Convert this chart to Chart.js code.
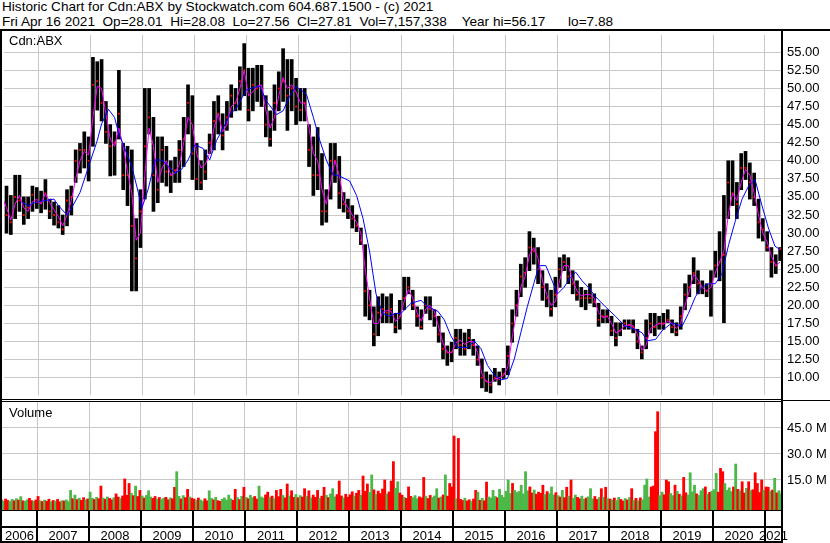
<!DOCTYPE html>
<html>
<head>
<meta charset="utf-8">
<script src="https://cdn.jsdelivr.net/npm/chart.js@4.4.0/dist/chart.umd.min.js"></script>
<style>
  body { margin: 0; background: #fff; width: 830px; height: 543px; overflow: hidden; position: relative;
         font-family: "Liberation Sans", Arial, sans-serif; }
  .txt { position: absolute; font-size: 13px; line-height: 15px; white-space: pre; color: #000; }
  .hdr { font-size: 13.6px; }
  .ln { position: absolute; background: #000; z-index: 5; }
  canvas { position: absolute; left: 0; }
</style>
</head>
<body>
<div class="txt hdr" style="left:2px;top:-1px">Historic Chart for Cdn:ABX by Stockwatch.com 604.687.1500 - (c) 2021
Fri Apr 16 2021  Op=28.01  Hi=28.08  Lo=27.56  Cl=27.81  Vol=7,157,338    Year hi=56.17      lo=7.88</div>

<canvas id="price" width="830" height="368" style="top:31px"></canvas>
<canvas id="volume" width="830" height="141" style="top:402px"></canvas>

<div class="txt" style="left:9px;top:33px;z-index:6">Cdn:ABX</div>
<div class="txt" style="left:9px;top:405px;z-index:6">Volume</div>

<!-- frame lines -->
<div class="ln" style="left:0;top:29px;width:830px;height:2px"></div>
<div class="ln" style="left:0;top:29px;width:2px;height:514px"></div>
<div class="ln" style="left:781px;top:29px;width:2px;height:514px"></div>
<div class="ln" style="left:0;top:399px;width:782px;height:1px"></div>
<div class="ln" style="left:0;top:401px;width:782px;height:1px"></div>
<div class="ln" style="left:783px;top:400px;width:47px;height:1px"></div>
<div class="ln" style="left:0;top:510px;width:783px;height:1px"></div>
<div class="ln" style="left:0;top:526px;width:783px;height:2px"></div>
<div class="ln" style="left:0;top:541px;width:783px;height:2px"></div>

<script>
// months are counted from Apr 2006 (index 0) to Apr 2021 (index 180)
const years = [2006, 2007, 2008, 2009, 2010, 2011, 2012, 2013, 2014, 2015, 2016, 2017, 2018, 2019, 2020, 2021];

const hi = [
  39.7, 36.5, 35.2, 38.0, 38.0, 35.0, 35.0, 36.5, 36.3,
  35.8, 37.4, 34.7, 34.3, 33.8, 32.5, 36.0, 36.5, 41.5, 42.4, 44.0, 43.3,
  54.3, 53.7, 54.0, 48.2, 45.0, 44.0, 52.5, 42.4, 42.0, 41.5, 32.0, 36.0,
  50.0, 50.0, 46.0, 43.3, 43.3, 42.0, 40.0, 40.5, 42.8, 46.0, 50.5, 49.0,
  42.4, 40.0, 41.5, 43.7, 48.2, 49.0, 46.5, 48.2, 50.5, 50.0, 53.0, 56.2,
  52.8, 52.8, 53.2, 53.2, 49.0, 46.9, 50.5, 52.3, 55.5, 54.0, 54.0, 51.4,
  50.0, 50.0, 45.0, 43.3, 44.6, 41.0, 36.0, 42.4, 42.4, 40.6, 35.6, 34.7,
  33.8, 32.5, 30.7, 28.4, 22.1, 19.8, 21.2, 21.6, 21.2, 21.6, 18.9, 20.7,
  23.9, 23.9, 22.1, 19.8, 19.4, 21.2, 21.2, 19.4, 18.5, 16.2, 14.4, 14.9,
  16.7, 16.7, 16.2, 16.7, 15.3, 14.4, 12.6, 10.8, 10.4, 11.3, 10.8, 11.3,
  14.4, 19.4, 22.1, 25.7, 26.6, 30.2, 29.3, 28.0, 24.8, 23.0, 22.1, 23.9,
  26.6, 27.0, 26.6, 24.8, 23.4, 22.5, 22.1, 23.0, 21.6, 20.3, 19.4, 19.4,
  18.5, 17.6, 17.6, 18.0, 18.0, 18.0, 16.7, 14.4, 18.0, 18.9, 18.9, 18.5,
  18.9, 19.4, 18.0, 17.6, 19.8, 23.0, 24.2, 26.6, 24.8, 23.4, 23.0, 24.8,
  27.5, 30.2, 35.2, 40.0, 40.0, 37.0, 41.0, 41.3, 39.7, 38.3, 34.7, 32.0,
  30.2, 28.0, 27.0, 28.0
];
const lo = [
  33.4, 30.0, 29.8, 32.0, 33.0, 31.2, 32.0, 33.0, 33.4,
  32.8, 33.3, 32.0, 31.1, 30.7, 29.8, 31.0, 32.5, 37.0, 38.3, 39.0, 37.2,
  42.0, 47.0, 45.5, 42.4, 37.9, 38.0, 43.0, 36.0, 33.8, 22.0, 22.0, 28.0,
  34.7, 43.7, 33.0, 34.2, 37.0, 36.5, 35.6, 37.0, 37.0, 39.2, 43.7, 37.4,
  36.0, 36.0, 37.4, 41.0, 41.5, 43.7, 41.5, 44.2, 46.0, 46.9, 47.0, 49.0,
  45.5, 46.9, 48.2, 47.5, 43.3, 42.0, 44.2, 46.9, 48.2, 44.2, 46.9, 45.0,
  45.5, 45.5, 39.2, 35.2, 36.0, 31.1, 31.5, 34.7, 37.0, 33.4, 32.9, 32.0,
  30.7, 30.2, 28.4, 18.5, 18.0, 14.4, 15.8, 17.6, 17.6, 17.6, 16.2, 16.7,
  19.4, 21.6, 19.4, 17.1, 16.7, 18.9, 18.0, 17.1, 14.9, 12.6, 11.7, 12.2,
  14.0, 13.1, 13.1, 14.0, 13.1, 11.7, 8.6, 8.1, 7.9, 9.5, 9.0, 9.9,
  10.4, 14.9, 18.5, 21.2, 22.5, 24.8, 25.7, 23.0, 20.7, 19.8, 18.5, 19.8,
  22.5, 24.8, 23.0, 21.6, 20.7, 19.8, 19.4, 20.3, 19.8, 17.1, 17.6, 17.6,
  15.8, 14.4, 15.8, 16.7, 16.7, 16.2, 14.0, 12.6, 14.0, 16.2, 15.8, 16.7,
  16.7, 17.6, 16.2, 15.8, 16.7, 19.4, 21.2, 23.0, 21.6, 21.6, 21.2, 18.5,
  23.9, 23.4, 17.6, 32.0, 33.8, 32.0, 36.0, 37.4, 34.7, 33.8, 29.3, 28.9,
  27.5, 23.9, 24.4, 26.2
];
const cl = [
  34.7, 32.5, 31.5, 35.0, 34.5, 32.5, 33.5, 35.3, 34.3,
  34.3, 35.5, 33.0, 32.5, 31.5, 30.5, 34.5, 35.0, 40.0, 41.5, 41.5, 40.0,
  50.5, 51.0, 48.0, 44.0, 42.0, 42.5, 46.5, 38.0, 38.0, 31.0, 26.5, 33.0,
  42.0, 46.0, 38.0, 36.0, 41.5, 38.5, 38.0, 38.7, 41.5, 43.0, 48.0, 41.0,
  37.5, 37.0, 38.5, 42.5, 45.5, 46.5, 43.5, 46.0, 49.0, 48.0, 51.0, 52.5,
  47.0, 50.5, 50.0, 50.0, 45.0, 43.0, 48.0, 50.0, 51.0, 49.0, 50.0, 47.5,
  47.0, 48.0, 41.5, 38.0, 38.0, 33.0, 33.0, 40.0, 40.0, 35.5, 34.0, 33.0,
  32.0, 31.0, 29.0, 22.0, 20.0, 16.0, 19.0, 19.5, 19.0, 19.5, 17.0, 18.5,
  21.0, 22.5, 20.0, 18.5, 17.0, 20.0, 19.5, 18.5, 16.0, 14.0, 13.5, 13.5,
  15.5, 14.5, 14.0, 15.5, 14.5, 12.5, 10.0, 9.5, 9.0, 10.0, 9.8, 10.5,
  13.0, 17.5, 20.0, 24.0, 24.5, 28.0, 27.5, 25.0, 22.5, 21.0, 19.5, 21.5,
  25.0, 26.0, 24.0, 23.0, 21.5, 21.0, 21.0, 21.0, 20.5, 18.0, 18.5, 18.5,
  16.5, 15.5, 16.5, 17.5, 17.3, 17.0, 15.0, 13.5, 15.5, 17.5, 17.0, 17.5,
  17.5, 18.0, 17.0, 16.3, 18.5, 21.5, 22.5, 24.5, 23.0, 22.5, 22.0, 23.0,
  25.5, 26.0, 27.0, 37.0, 35.5, 34.0, 39.0, 39.0, 37.0, 35.0, 31.5, 30.5,
  28.0, 26.0, 25.5, 27.8
];
// short moving average (magenta), one reading per month
const fastMa = [
  35.0, 33.5, 31.8, 34.0, 35.2, 33.5, 33.0, 34.3, 34.7,
  34.0, 35.5, 34.2, 33.2, 32.3, 31.0, 32.5, 34.5, 37.5, 40.0, 41.3, 40.8,
  46.0, 50.3, 50.0, 46.5, 43.0, 42.0, 44.5, 42.0, 38.5, 35.5, 29.0, 30.0,
  38.0, 44.5, 42.0, 37.0, 39.0, 40.0, 38.0, 38.3, 39.5, 42.5, 46.0, 45.0,
  41.0, 39.0, 39.5, 41.0, 44.5, 46.5, 44.0, 45.0, 47.5, 48.0, 50.0, 52.5,
  49.0, 49.5, 50.3, 50.5, 47.0, 44.5, 46.0, 49.0, 51.5, 50.0, 50.5, 49.5,
  48.0, 48.0, 44.5, 41.0, 40.0, 36.0, 34.0, 37.0, 40.0, 38.0, 34.5, 33.5,
  32.5, 31.5, 30.0, 25.0, 21.0, 17.5, 17.5, 19.0, 19.3, 19.2, 17.8, 18.3,
  20.5, 22.2, 21.0, 19.0, 17.8, 19.5, 20.0, 19.2, 17.0, 14.8, 13.5, 13.5,
  14.8, 15.2, 14.6, 15.0, 15.0, 13.5, 10.5, 9.5, 9.3, 9.8, 10.0, 10.3,
  11.5, 15.5, 19.0, 22.5, 24.0, 27.0, 28.0, 26.5, 23.5, 21.5, 20.0, 20.5,
  23.5, 25.5, 25.5, 23.5, 22.0, 21.3, 21.5, 21.5, 21.0, 19.0, 18.3, 18.5,
  17.5, 16.2, 16.5, 17.2, 17.3, 17.2, 16.0, 13.8, 14.5, 16.8, 17.2, 17.5,
  17.4, 17.8, 17.5, 16.8, 17.5, 20.0, 22.0, 24.3, 23.5, 22.5, 22.0, 22.5,
  24.5, 26.0, 27.5, 32.5, 35.5, 34.5, 37.0, 38.8, 38.0, 35.5, 32.5, 30.0,
  28.8, 26.8, 25.5, 26.0
];
// long moving average (blue), read at these month positions
const slowMaAt = [
  4.6, 6, 8, 10, 12, 13, 15, 16, 18, 20, 22, 23, 24.6, 26, 27, 28.5, 30, 31.5, 32.3, 33.8,
  35.4, 37, 38.5, 40, 41.5, 43, 44.6, 46.5, 48, 49.6, 51.2, 52.7, 54.2, 56.5, 58, 59.6,
  61.2, 63.5, 65, 66.5, 68, 70.4, 72, 73.5, 75, 76.5, 78, 80.4, 82, 83.5, 85, 86.5, 88,
  89.6, 91, 92.3, 94.6, 96.9, 98.5, 100.8, 102.3, 103.8, 105.4, 107.7, 109.2, 110.8, 112.3,
  113.8, 115.4, 116.9, 118.5, 120, 121.5, 123, 124.2, 125.8, 126.9, 128.5, 130, 131.5,
  132.7, 134.2, 135.8, 137.3, 139.6, 141.9, 144.2, 146.5, 148.1, 149.2, 151.2, 152.7, 155,
  157.3, 158.8, 160.4, 161.9, 163.5, 165, 166.5, 168.1, 169.6, 171.2, 172.7, 174.2, 175.8,
  177.3, 178.8, 180
];
const slowMa = [
  34.3, 33.8, 34.3, 34.5, 34.7, 33.8, 32.5, 33.4, 35.6, 39.2, 42.8, 45.1, 47.1, 46.0, 43.7, 41.5, 39.2, 35.6, 33.4, 36.1,
  40.1, 40.1, 39.2, 38.3, 38.8, 40.1, 42.2, 41.7, 40.1, 42.8, 44.6, 46.4, 47.3, 49.8, 50.1, 50.3,
  48.2, 46.4, 46.9, 48.9, 50.3, 49.2, 46.0, 42.8, 40.1, 38.1, 37.9, 37.2, 35.2, 32.0, 27.5, 21.6, 18.9,
  18.5, 18.9, 18.9, 20.3, 20.7, 19.8, 19.2, 18.0, 15.8, 14.2, 14.2, 15.1, 14.0, 11.7,
  10.4, 9.7, 9.9, 12.6, 16.2, 19.8, 23.0, 25.5, 25.5, 23.9, 21.6, 22.5, 23.9,
  24.6, 23.4, 22.4, 21.2, 19.8, 18.5, 17.1, 16.7, 16.2, 15.1, 15.3, 16.5, 17.6,
  17.1, 18.9, 21.2, 22.5, 23.0, 23.0, 24.3, 28.4, 31.6, 34.7, 36.5, 37.4, 33.8,
  30.7, 28.2, 27.7
];
// volume in millions, two readings per month; g = up, r = down
const vol = [
  8.0, 3.5, 2.8, 4.0, 3.2, 2.6, 3.8, 3.0, 4.2, 3.4, 5.4, 3.0, 2.8, 3.6, 4.4, 3.1, 2.7, 3.5,
  5.5, 3.0, 2.6, 3.4, 2.8, 3.9, 2.5, 3.2, 2.7, 3.8, 2.4, 3.1, 2.9, 3.5, 2.6, 9.0, 4.2, 6.3, 3.7, 4.5, 3.3, 4.8, 3.6, 4.1,
  8.0, 4.5, 3.8, 5.0, 4.2, 11.5, 4.6, 3.9, 5.2, 4.4, 3.6, 4.8, 7.0, 5.1, 4.3, 5.8, 15.6, 6.2, 13.0, 7.4, 6.0, 11.5, 5.5, 9.0,
  5.8, 4.6, 6.1, 8.8, 5.2, 4.4, 5.5, 4.0, 4.9, 3.8, 4.5, 5.0, 3.6, 4.7, 4.2, 10.8, 19.8, 5.6, 4.1, 6.0, 4.8, 9.6, 5.2, 4.5,
  4.0, 3.2, 4.6, 3.5, 2.8, 4.2, 3.0, 8.8, 4.4, 3.6, 5.0, 3.1, 2.7, 3.9, 4.7, 3.4, 6.3, 4.1, 3.3, 9.6, 4.8, 3.7, 5.6, 10.8,
  5.0, 4.2, 6.2, 4.8, 5.5, 4.0, 11.5, 5.2, 4.6, 6.4, 8.0, 4.9, 5.7, 4.3, 9.0, 5.4, 9.6, 6.1, 4.7, 12.7, 5.8, 8.8, 5.0, 6.6,
  4.8, 6.0, 5.2, 10.0, 5.5, 8.8, 4.6, 6.3, 5.0, 9.0, 4.4, 5.7, 10.8, 6.2, 4.9, 7.0, 10.0, 5.3, 6.6, 14.4, 5.8, 4.7, 6.8, 5.1,
  6.5, 8.2, 5.8, 7.4, 9.0, 6.3, 17.3, 8.5, 12.7, 7.8, 17.9, 9.3, 6.7, 8.6, 7.2, 9.8, 15.0, 6.9, 8.1, 14.4, 25.6, 10.2, 14.0, 7.5,
  6.2, 5.0, 4.4, 11.0, 5.6, 4.8, 6.0, 4.2, 5.3, 4.7, 16.5, 5.5, 4.3, 6.1, 4.9, 5.8, 10.0, 4.6, 5.2, 6.4, 17.9, 5.7, 13.0, 11.0,
  40.4, 4.2, 39.0, 3.8, 3.2, 4.5, 2.9, 3.6, 2.6, 4.0, 9.0, 8.0, 3.3, 4.4, 3.0, 13.8, 5.2, 4.6, 9.0, 5.5, 4.8, 9.6, 6.2, 5.0,
  8.5, 15.0, 7.2, 13.0, 9.0, 7.8, 8.4, 12.0, 7.0, 19.8, 8.8, 11.0, 7.5, 9.2, 6.8, 8.0, 7.3, 12.0, 6.6, 8.3, 7.1, 11.0, 6.4, 7.7,
  6.0, 5.2, 9.0, 4.8, 10.8, 5.6, 15.0, 4.4, 6.3, 5.0, 4.2, 5.7, 3.9, 4.6, 5.3, 10.0, 4.1, 5.5, 3.8, 4.9, 10.0, 5.1, 10.8, 4.3,
  4.0, 3.4, 4.6, 3.1, 5.0, 3.8, 2.9, 4.3, 3.5, 4.9, 10.0, 3.2, 4.4, 3.0, 4.7, 3.6, 12.0, 15.6, 5.2, 11.0, 11.5, 42.9, 54.4, 6.0,
  8.0, 6.5, 15.0, 14.0, 7.2, 6.0, 12.0, 8.4, 6.8, 5.9, 16.5, 7.6, 6.3, 19.2, 8.2, 12.0, 7.0, 6.1, 8.8, 10.0, 11.0, 6.7, 7.9, 8.5,
  9.5, 18.8, 8.0, 21.7, 19.8, 13.0, 9.0, 10.5, 8.3, 11.0, 24.2, 9.6, 8.7, 14.0, 7.5, 10.2, 14.0, 8.9, 9.4, 19.2, 13.0, 7.8, 15.0, 9.1,
  11.0, 10.8, 8.5, 9.2, 16.0, 7.6, 8.8, 6.9
];
const volDir = (
  'grgrrggrgrgrggrrgr' +
  'rgrgrrgrgrrgrgggrgrgrrgr' +
  'ggrgrrgrgrrgrrgrrrrgrgrr' +
  'grgggrrgrggrrgrrggrgrrgr' +
  'rgrggrrggrgrrgggggrrgrgr' +
  'grggrrgggrrgrgrrrgrrgrrg' +
  'rgrrgrgrrrgrrgrgggrrrgrr' +
  'rrgrrgrrrggrgrrrrgrrrggr' +
  'rgrrrgggrrrgrrgggrgrgrrr' +
  'rgrrrgrrgrrgrgrrggggrggg' +
  'gggrgggggggrrgrrrrgrgggr' +
  'grgrrgrggrrggrgggrrgrgrg' +
  'rgrggrrgrgrgrgrggggrrrrg' +
  'grrrggrgrgrrggggrgggrgrg' +
  'ggrrrggggrgrgrrgrgrrrrrg' +
  'rrgrgrgg'
).split('');

const priceTicks = [10, 12.5, 15, 17.5, 20, 22.5, 25, 27.5, 30, 32.5, 35, 37.5, 40, 42.5, 45, 47.5, 50, 52.5, 55];
const volTicks = [15, 30, 45];

// axis ranges
const xMin = 0.42, xMax = 180.44;
const priceMin = 7.61, priceMax = 57.39;
const volMin = -2.31, volMax = 60;

const FONT = "'Liberation Sans', Arial, sans-serif";
const GRID = '#c8c8c8';
const yearEdges = years.slice(1).map(yr => (yr - 2006) * 12 - 3.5);

function xScale() {
  return {
    type: 'linear', min: xMin, max: xMax, offset: false,
    afterBuildTicks: s => { s.ticks = yearEdges.map(v => ({ value: v })); },
    afterFit: s => { s.height = 0; s.paddingLeft = 0; s.paddingRight = 0; },
    ticks: { display: false },
    grid: { color: GRID, drawTicks: false, offset: false },
    border: { display: false }
  };
}
function yScale(min, max, ticks, fmt) {
  return {
    position: 'right', min: min, max: max,
    afterBuildTicks: s => { s.ticks = ticks.map(v => ({ value: v })); },
    afterFit: s => { s.width = 48; s.paddingTop = 0; s.paddingBottom = 0; },
    ticks: { autoSkip: false, padding: 5, color: '#000', font: { family: FONT, size: 13 }, callback: fmt },
    grid: { color: GRID, drawTicks: false },
    border: { display: false }
  };
}

new Chart(document.getElementById('price'), {
  type: 'bar',
  data: {
    datasets: [
      { type: 'line', label: 'long', data: slowMaAt.map((m, k) => ({ x: m, y: slowMa[k] })),
        borderColor: '#0000ff', borderWidth: 1, pointRadius: 0, tension: 0, order: 1 },
      { type: 'line', label: 'short', data: fastMa.map((v, i) => ({ x: i, y: v })),
        borderColor: '#ff00ff', borderWidth: 1, pointRadius: 0, tension: 0, order: 2 },
      { type: 'line', label: 'close', data: cl.map((v, i) => ({ x: i, y: v })), showLine: false,
        pointStyle: 'rect', pointRadius: 1.3, pointBorderWidth: 0, pointBackgroundColor: '#ff0000', order: 3 },
      { type: 'bar', label: 'range', data: hi.map((h, i) => ({ x: i, y: [lo[i], h] })),
        backgroundColor: '#000', barThickness: 3, order: 4 }
    ]
  },
  options: {
    responsive: false, animation: false, events: [],
    layout: { padding: { left: 2, top: 0, right: 0, bottom: 0 } },
    plugins: { legend: { display: false }, tooltip: { enabled: false } },
    scales: {
      x: xScale(),
      y: yScale(priceMin, priceMax, priceTicks, v => v.toFixed(2))
    }
  }
});

// the two boxed rows under the volume panel, with the year names
const yearRow = {
  id: 'yearRow',
  afterDraw(chart) {
    const { ctx, chartArea: a, scales: { x } } = chart;
    const top = a.bottom, bot = a.bottom + 31;
    ctx.save();
    ctx.fillStyle = '#000';
    yearEdges.forEach(e => {
      const px = Math.round(x.getPixelForValue(e));
      ctx.fillRect(px - 1, top, 2, bot - top);
    });
    ctx.font = '13px ' + FONT;
    ctx.textAlign = 'center';
    ctx.textBaseline = 'alphabetic';
    const bounds = [x.min, ...yearEdges, x.max];
    years.forEach((yr, k) => {
      const c = (x.getPixelForValue(bounds[k]) + x.getPixelForValue(bounds[k + 1])) / 2;
      ctx.fillText(String(yr), c, bot - 1.5);
    });
    ctx.restore();
  }
};

new Chart(document.getElementById('volume'), {
  type: 'bar',
  data: {
    datasets: [{
      data: vol.map((v, h) => ({ x: h / 2 - 0.25, y: v })),
      backgroundColor: vol.map((v, h) => volDir[h] === 'g' ? '#4cb848' : '#ff0000'),
      base: volMin, barPercentage: 1, categoryPercentage: 1
    }]
  },
  options: {
    responsive: false, animation: false, events: [],
    layout: { padding: { left: 2, top: 0, right: 0, bottom: 33 } },
    plugins: { legend: { display: false }, tooltip: { enabled: false } },
    scales: {
      x: xScale(),
      y: yScale(volMin, volMax, volTicks, v => v.toFixed(1) + ' M')
    }
  },
  plugins: [yearRow]
});
</script>
</body>
</html>
